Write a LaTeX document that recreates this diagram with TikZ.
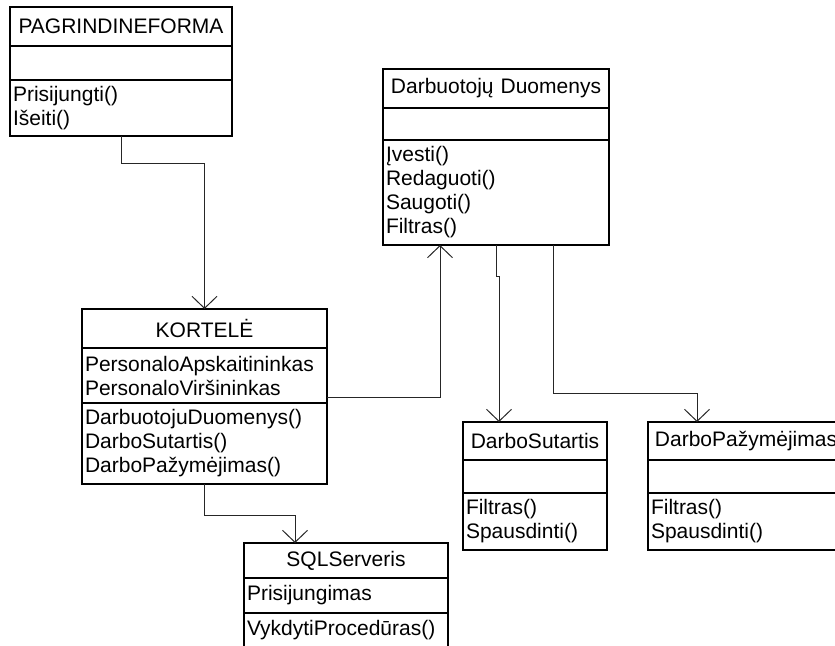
\documentclass[tikz,border=0pt]{standalone}
\usepackage{fontspec}
\setmainfont{Liberation Sans}
\usetikzlibrary{arrows.meta}
\usetikzlibrary{positioning}
\tikzset{
    umlhead/.style={
        draw,
        line width=2pt,
        outer sep=0pt,
        inner xsep=3pt,
        inner ysep=0pt,
        align=center,
        anchor=north west,
        font=\fontsize{21}{24}\selectfont
    },
    umlpart/.style={
        draw,
        line width=2pt,
        outer sep=0pt,
        inner xsep=3pt,
        inner ysep=0pt,
        align=left,
        font=\fontsize{21}{24}\selectfont
    },
    link/.style={
        draw=black!85,
        line width=1pt,
        -{Straight Barb[length=12pt, width=25pt]}
    }
}

\begin{document}
\begin{tikzpicture}[x=1pt, y=-1pt]
    \useasboundingbox (0,0) rectangle (835,645);
    \clip (0,0) rectangle (835,645);

    % PAGRINDINEFORMA
    \node[umlhead, text width=216pt, minimum height=39pt] (pf) at (10,7) {PAGRINDINEFORMA};
    \node[umlpart, text width=216pt, minimum height=34pt, below=0pt of pf] (pfa) {};
    \node[umlpart, text width=216pt, minimum height=56pt, below=0pt of pfa] (pfo) {Prisijungti()\\Išeiti()};

    % Darbuotoju Duomenys
    \node[umlhead, text width=220pt, minimum height=39pt] (dd) at (383,69) {Darbuotojų Duomenys};
    \node[umlpart, text width=220pt, minimum height=32pt, below=0pt of dd] (dda) {};
    \node[umlpart, text width=220pt, minimum height=105pt, below=0pt of dda] (ddo) {Įvesti()\\Redaguoti()\\Saugoti()\\Filtras()};

    % KORTELE
    \node[umlhead, text width=239pt, minimum height=39pt] (k) at (82,309) {KORTELĖ};
    \node[umlpart, text width=239pt, minimum height=55pt, below=0pt of k] (ka) {PersonaloApskaitininkas\\PersonaloViršininkas};
    \node[umlpart, text width=239pt, minimum height=81pt, below=0pt of ka] (ko) {DarbuotojuDuomenys()\\DarboSutartis()\\DarboPažymėjimas()};

    % SQLServeris
    \node[umlhead, text width=198pt, minimum height=35pt] (sql) at (244,543) {SQLServeris};
    \node[umlpart, text width=198pt, minimum height=35pt, below=0pt of sql] (sqla) {Prisijungimas};
    \node[umlpart, text width=198pt, minimum height=35pt, below=0pt of sqla] (sqlo) {VykdytiProcedūras()};

    % DarboSutartis
    \node[umlhead, text width=138pt, minimum height=38pt] (ds) at (463,422) {DarboSutartis};
    \node[umlpart, text width=138pt, minimum height=33pt, below=0pt of ds] (dsa) {};
    \node[umlpart, text width=138pt, minimum height=57pt, below=0pt of dsa] (dso) {Filtras()\\Spausdinti()};

    % DarboPazymejimas
    \node[umlhead, text width=190pt, minimum height=38pt] (dp) at (648,422) {DarboPažymėjimas};
    \node[umlpart, text width=190pt, minimum height=33pt, below=0pt of dp] (dpa) {};
    \node[umlpart, text width=190pt, minimum height=57pt, below=0pt of dpa] (dpo) {Filtras()\\Spausdinti()};

    % connector ends
    \coordinate (kout) at (327,397);
    \coordinate (ddin) at (440,245);
    \coordinate (sqlin) at (295,543);
    \coordinate (ddout1) at (496,245);
    \coordinate (dsin) at (499,422);
    \coordinate (ddout2) at (553,245);
    \coordinate (dpin) at (697,422);

    \draw[link] (pfo.south) -- ++(0,27) -| (k.north);
    \draw[link] (ko.south) -- ++(0,31) -| (sqlin);
    \draw[link] (kout) -| (ddin);
    \draw[link] (ddout1) -- ++(0,31) -- ++(3,0) -- (dsin);
    \draw[link] (ddout2) -- ++(0,148) -| (dpin);
\end{tikzpicture}
\end{document}
